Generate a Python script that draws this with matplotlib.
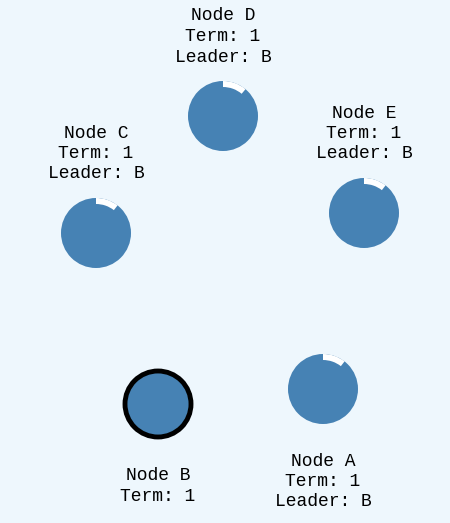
import matplotlib
matplotlib.use("Agg")
import matplotlib.pyplot as plt
from matplotlib.patches import Circle, Wedge

names = ["A", "B", "C", "D", "E"]
terms = [1, 1, 1, 1, 1]
leaders = ["B", None, "B", "B", "B"]
cx = [323, 158, 96, 223, 364]
cy = [389, 404, 233, 116, 213]
arc_deg = [38, 0, 38, 40, 38]   # white timeout arc, clockwise from 12 o'clock
label_above = [False, False, True, True, True]

bg = "#EEF7FD"
fig = plt.figure(figsize=(4.5, 5.23), dpi=100, facecolor=bg)
ax = fig.add_axes([0, 0, 1, 1])
ax.set_facecolor(bg)
ax.set_xlim(0, 450)
ax.set_ylim(523, 0)
ax.set_aspect("equal")
ax.axis("off")

R = 35
for i, n in enumerate(names):
    x, y = cx[i], cy[i]
    is_leader = leaders[i] is None
    ax.add_patch(Circle((x, y), R - (2 if is_leader else 0), facecolor="#4682B4",
                        edgecolor="black" if is_leader else "none",
                        linewidth=3.5 if is_leader else 0, zorder=2))
    if arc_deg[i] > 0:
        # y axis inverted: angles measured counterclockwise on screen-flipped axes
        ax.add_patch(Wedge((x, y), R, 270, 270 + arc_deg[i], width=6,
                           facecolor="white", edgecolor="none", zorder=3))
    lines = [f"Node {n}", f"Term: {terms[i]}"]
    if leaders[i]:
        lines.append(f"Leader: {leaders[i]}")
    lh = 20.5
    if label_above[i]:
        base = y - R - 24 - lh * (len(lines) - 1)
    else:
        base = y + R + 37
    for k, t in enumerate(lines):
        ax.text(x, base + k * lh, t, ha="center", va="center",
                family="Liberation Mono", fontsize=13, color="black")

fig.savefig("out.png", dpi=100, facecolor=bg)
